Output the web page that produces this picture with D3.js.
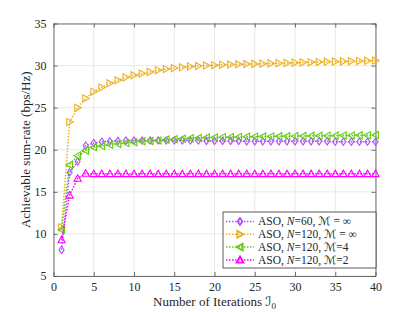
<!DOCTYPE html>
<html>
<head>
<meta charset="utf-8">
<script src="https://cdn.jsdelivr.net/npm/d3@7"></script>
<style>
  body { margin: 0; background: #fff; }
  svg text { font-family: "Liberation Serif", "DejaVu Serif", serif; fill: #262626; }
  .script { font-family: "DejaVu Sans", "DejaVu Serif", serif; }
</style>
</head>
<body>
<div id="chart"></div>
<script>
// iteration index 1..40
var iterations = d3.range(1, 41);

var asoN60 = [8.1, 17.3, 18.6, 20.5, 20.8, 20.95, 21.0, 21.05, 21.1, 21.1,
    21.1, 21.1, 21.1, 21.1, 21.1, 21.1, 21.1, 21.1, 21.05, 21.05,
    21.05, 21.05, 21.05, 21.0, 21.0, 21.0, 21.0, 21.0, 21.0, 21.0,
    21.0, 21.0, 21.0, 21.0, 20.95, 20.95, 20.95, 20.95, 20.95, 20.95];

var asoN120 = [10.8, 23.3, 25.0, 26.1, 26.9, 27.4, 27.9, 28.25, 28.6, 28.85,
    29.05, 29.25, 29.45, 29.6, 29.7, 29.8, 29.9, 29.95, 30.0, 30.05,
    30.1, 30.12, 30.15, 30.18, 30.2, 30.23, 30.26, 30.29, 30.32, 30.35,
    30.38, 30.4, 30.43, 30.45, 30.48, 30.5, 30.52, 30.55, 30.57, 30.6];

var asoM4 = [10.5, 18.2, 19.3, 19.9, 20.3, 20.45, 20.6, 20.7, 20.8, 20.9,
    21.0, 21.05, 21.1, 21.2, 21.25, 21.3, 21.35, 21.4, 21.45, 21.45,
    21.5, 21.5, 21.52, 21.54, 21.55, 21.57, 21.58, 21.6, 21.6, 21.62,
    21.63, 21.65, 21.66, 21.67, 21.68, 21.7, 21.7, 21.72, 21.73, 21.75];

var asoM2 = [9.3, 14.6, 16.6, 17.2, 17.15, 17.15, 17.15, 17.15, 17.15, 17.15,
    17.15, 17.15, 17.15, 17.15, 17.15, 17.15, 17.15, 17.15, 17.15, 17.15,
    17.15, 17.15, 17.15, 17.15, 17.15, 17.15, 17.15, 17.15, 17.15, 17.15,
    17.15, 17.15, 17.15, 17.15, 17.15, 17.15, 17.15, 17.15, 17.15, 17.15];

var xTicks = [0, 5, 10, 15, 20, 25, 30, 35, 40];
var yTicks = [5, 10, 15, 20, 25, 30, 35];

var series = [
    { values: asoN60, color: "#b34dff", marker: "diamond", n: "60", m: " = \u221E" },
    { values: asoN120, color: "#edb120", marker: "right", n: "120", m: " = \u221E" },
    { values: asoM4, color: "#5fcc12", marker: "left", n: "120", m: "=4" },
    { values: asoM2, color: "#ff00ff", marker: "up", n: "120", m: "=2" }
];

function markerPath(type, s) {
    // s = half size
    if (type == "diamond") return "M0," + (-s) + "L" + (s * 0.7) + ",0L0," + s + "L" + (-s * 0.7) + ",0Z";
    if (type == "right") return "M" + s + ",0L" + (-s * 0.8) + "," + (-s) + "L" + (-s * 0.8) + "," + s + "Z";
    if (type == "left") return "M" + (-s) + ",0L" + (s * 0.8) + "," + (-s) + "L" + (s * 0.8) + "," + s + "Z";
    return "M0," + (-s) + "L" + s + "," + (s * 0.8) + "L" + (-s) + "," + (s * 0.8) + "Z";
}

var W = 415, H = 312;
var margin = { top: 23.5, right: 39.5, bottom: 36, left: 53.5 };
var w = W - margin.left - margin.right;
var h = H - margin.top - margin.bottom;

var svg = d3.select("#chart").append("svg")
    .attr("width", W).attr("height", H);

var g = svg.append("g")
    .attr("transform", "translate(" + margin.left + "," + margin.top + ")");

var xScale = d3.scaleLinear().domain([0, 40]).range([0, w]);
var yScale = d3.scaleLinear().domain([5, 35]).range([h, 0]);

// grid
g.append("g").selectAll("line").data(xTicks).enter().append("line")
    .attr("x1", function (d) { return xScale(d); })
    .attr("x2", function (d) { return xScale(d); })
    .attr("y1", 0).attr("y2", h)
    .attr("stroke", "#e3e3e3").attr("stroke-width", 0.8);
g.append("g").selectAll("line").data(yTicks).enter().append("line")
    .attr("y1", function (d) { return yScale(d); })
    .attr("y2", function (d) { return yScale(d); })
    .attr("x1", 0).attr("x2", w)
    .attr("stroke", "#e3e3e3").attr("stroke-width", 0.8);

// axes, ticks pointing inward
var xAxis = d3.axisBottom(xScale).tickValues(xTicks).tickSizeInner(-4).tickSizeOuter(0).tickPadding(6);
var yAxis = d3.axisLeft(yScale).tickValues(yTicks).tickSizeInner(-4).tickSizeOuter(0).tickPadding(7);
var xTop = d3.axisTop(xScale).tickValues(xTicks).tickSizeInner(-4).tickSizeOuter(0).tickFormat("");
var yRight = d3.axisRight(yScale).tickValues(yTicks).tickSizeInner(-4).tickSizeOuter(0).tickFormat("");

var axes = [
    g.append("g").attr("transform", "translate(0," + h + ")").call(xAxis),
    g.append("g").call(yAxis),
    g.append("g").call(xTop),
    g.append("g").attr("transform", "translate(" + w + ",0)").call(yRight)
];
axes.forEach(function (a) {
    a.selectAll("path, line").attr("stroke", "#4d4d4d").attr("stroke-width", 0.8);
    a.selectAll("text").style("font-size", "12px").attr("fill", "#262626");
});

// lines and markers
var line = d3.line()
    .x(function (d, i) { return xScale(iterations[i]); })
    .y(function (d) { return yScale(d); });

series.forEach(function (s) {
    g.append("path").datum(s.values)
        .attr("d", line)
        .attr("fill", "none")
        .attr("stroke", s.color)
        .attr("stroke-width", 1.5)
        .attr("stroke-dasharray", "1.5,1.5");
    g.append("g").selectAll("path").data(s.values).enter().append("path")
        .attr("transform", function (d, i) { return "translate(" + xScale(iterations[i]) + "," + yScale(d) + ")"; })
        .attr("d", markerPath(s.marker, 3.6))
        .attr("fill", "none")
        .attr("stroke", s.color)
        .attr("stroke-width", 1.1);
});

// legend
var lg = svg.append("g").attr("transform", "translate(223,212)");
lg.append("rect").attr("width", 153).attr("height", 56)
    .attr("fill", "#fff").attr("stroke", "#333").attr("stroke-width", 0.8);

series.forEach(function (s, i) {
    var y = 9.5 + i * 12.8;
    var row = lg.append("g").attr("transform", "translate(0," + y + ")");
    row.append("line").attr("x1", 3).attr("x2", 31).attr("y1", 0).attr("y2", 0)
        .attr("stroke", s.color).attr("stroke-width", 1.5).attr("stroke-dasharray", "1.5,1.5");
    row.append("path").attr("transform", "translate(17,0)")
        .attr("d", markerPath(s.marker, 3.4))
        .attr("fill", "none").attr("stroke", s.color).attr("stroke-width", 1.8);
    var t = row.append("text").attr("x", 35).attr("y", 3.8).style("font-size", "11.5px");
    t.append("tspan").text("ASO, ");
    t.append("tspan").style("font-style", "italic").text("N");
    t.append("tspan").text("=" + s.n + ", ");
    t.append("tspan").attr("class", "script").text("\u2133");
    t.append("tspan").text(s.m);
});

// axis labels
var xl = svg.append("text")
    .attr("x", margin.left + w / 2).attr("y", 306)
    .attr("text-anchor", "middle").style("font-size", "13px");
xl.append("tspan").text("Number of Iterations ");
xl.append("tspan").attr("class", "script").text("\u2110");
xl.append("tspan").attr("dy", 2.5).style("font-size", "9px").text("0");

svg.append("text")
    .attr("transform", "translate(30," + (margin.top + h / 2) + ") rotate(-90)")
    .attr("text-anchor", "middle").style("font-size", "13px")
    .text("Achievable sum-rate (bps/Hz)");
</script>
</body>
</html>
